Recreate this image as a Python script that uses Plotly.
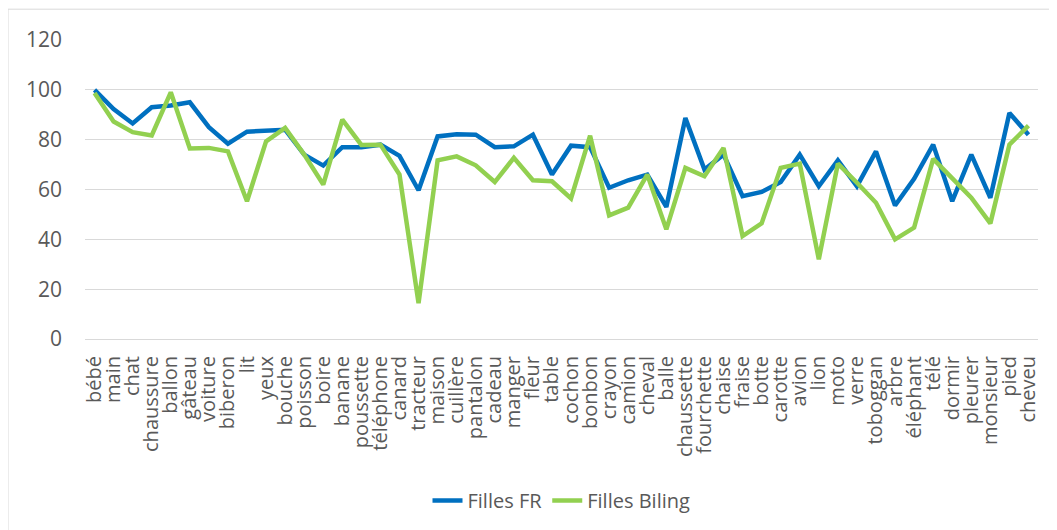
import plotly.graph_objects as go

mots = ["bébé", "main", "chat", "chaussure", "ballon", "gâteau", "voiture", "biberon",
        "lit", "yeux", "bouche", "poisson", "boire", "banane", "poussette", "téléphone",
        "canard", "tracteur", "maison", "cuillère", "pantalon", "cadeau", "manger", "fleur",
        "table", "cochon", "bonbon", "crayon", "camion", "cheval", "balle", "chaussette",
        "fourchette", "chaise", "fraise", "botte", "carotte", "avion", "lion", "moto",
        "verre", "toboggan", "arbre", "éléphant", "télé", "dormir", "pleurer", "monsieur",
        "pied", "cheveu"]

filles_fr = [100, 92.3, 86.5, 93, 93.7, 95, 85, 78.4,
             83.2, 83.5, 84, 74, 69.6, 77, 77, 78,
             73.5, 59.7, 81.3, 82.2, 82, 77, 77.3, 82,
             66, 77.6, 77, 60.7, 63.7, 66, 53, 88.7,
             68, 74, 57.3, 59, 63, 74, 61.3, 71.7,
             61.3, 75.3, 53.6, 64.3, 78, 55.3, 74, 56.7,
             90.7, 82]

filles_biling = [98.7, 87.3, 83, 81.7, 99, 76.5, 76.7, 75.3,
                 55.3, 79.3, 84.7, 74, 62, 88, 77.9, 78,
                 66, 14.4, 71.7, 73.3, 69.7, 63, 72.7, 63.7,
                 63.3, 56.4, 81.6, 49.6, 52.7, 66, 44, 68.7,
                 65.3, 76.7, 41.3, 46.4, 68.7, 70.4, 32, 70.4,
                 62.7, 54.7, 40, 44.7, 72.3, 64.7, 56.7, 46.4,
                 78, 85.6]

y_ticks = [0, 20, 40, 60, 80, 100, 120]

police = "Open Sans, Segoe UI, sans-serif"
gris = "#595959"

fig = go.Figure()
fig.add_trace(go.Scatter(x=mots, y=filles_fr, name="Filles FR", mode="lines",
                         line=dict(color="#0070C0", width=4.5)))
fig.add_trace(go.Scatter(x=mots, y=filles_biling, name="Filles Biling", mode="lines",
                         line=dict(color="#92D050", width=4.5)))

# la page html ajoute une marge de 8px autour du graphique
fig.update_layout(
    width=1049, height=522,
    margin=dict(l=77, r=19, t=32, b=190),
    paper_bgcolor="white", plot_bgcolor="white",
    font=dict(family=police, size=20, color=gris),
    showlegend=True,
    legend=dict(orientation="h", x=0.5, xanchor="center", y=-0.47, yanchor="top",
                font=dict(size=20, color=gris)),
    xaxis=dict(tickangle=-90, showgrid=False, showline=False, ticks="",
               tickmode="linear", dtick=1, range=[-0.5, len(mots) - 0.5],
               ticklabelstandoff=12,
               tickfont=dict(size=20, color=gris)),
    yaxis=dict(range=[0, 120], tickvals=y_ticks, showgrid=True, gridcolor="#D9D9D9",
               gridwidth=1.3, zeroline=True, zerolinecolor="#D9D9D9", zerolinewidth=1.3,
               showline=False, ticks="", ticklen=0, ticklabelstandoff=22,
               tickfont=dict(size=21, color=gris)),
)

# cadre du graphique (style Excel)
fig.add_shape(type="line", xref="paper", yref="paper", x0=-0.0808, x1=1.05,
              y0=1.103, y1=1.103, line=dict(color="#D9D9D9", width=1))
fig.add_shape(type="line", xref="paper", yref="paper", x0=-0.0808, x1=-0.0808,
              y0=1.103, y1=-0.7, line=dict(color="#D9D9D9", width=1))

fig.write_html("out.html")
